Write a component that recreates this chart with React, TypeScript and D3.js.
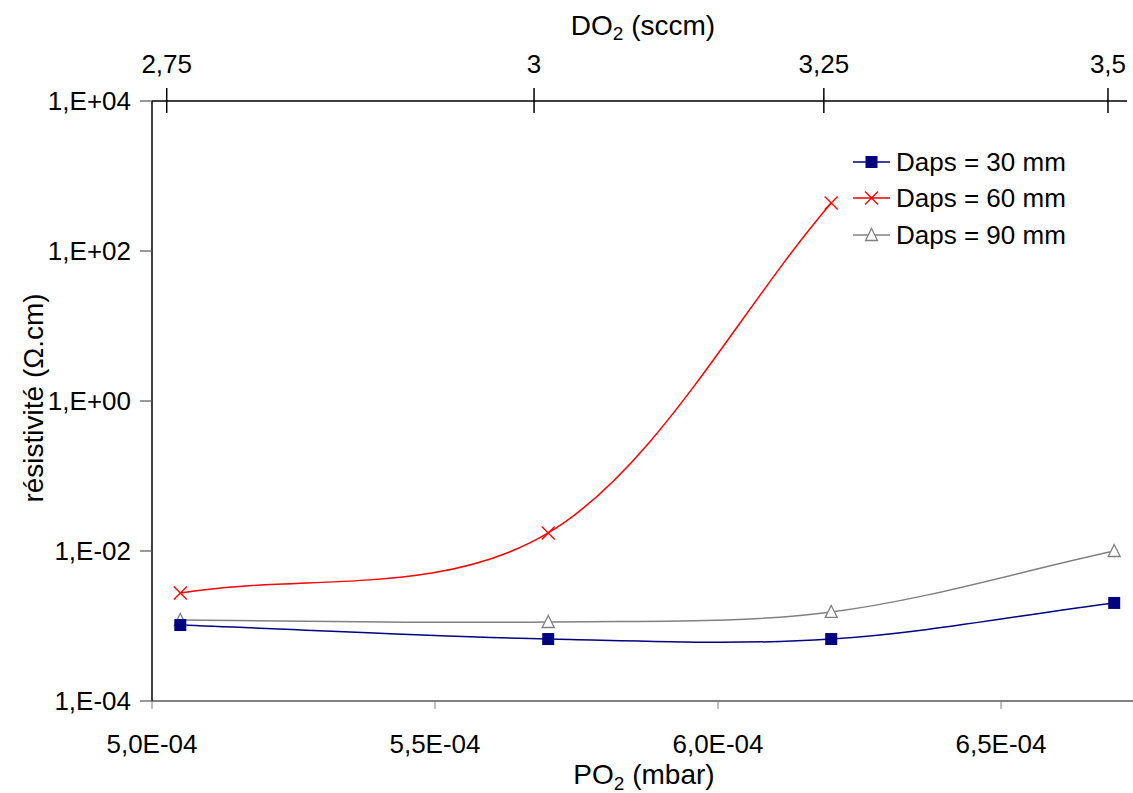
import React from "react";
import * as d3 from "d3";

const po2 = [5.05e-4, 5.7e-4, 6.2e-4, 6.7e-4];
const daps30 = [1.03e-3, 6.7e-4, 6.7e-4, 2.03e-3];
const daps60 = [2.75e-3, 1.74e-2, 437];
const daps90 = [1.2e-3, 1.13e-3, 1.54e-3, 1.0e-2];
const do2Ticks = [2.75, 3, 3.25, 3.5];
const do2TickLabels = ["2,75", "3", "3,25", "3,5"];
const do2AsPo2 = [5.026e-4, 5.675e-4, 6.187e-4, 6.689e-4];
const xTicks = [5.0e-4, 5.5e-4, 6.0e-4, 6.5e-4];
const xTickLabels = ["5,0E-04", "5,5E-04", "6,0E-04", "6,5E-04"];
const yTicks = [1e4, 1e2, 1, 1e-2, 1e-4];
const yTickLabels = ["1,E+04", "1,E+02", "1,E+00", "1,E-02", "1,E-04"];
const legendLabels = ["Daps = 30 mm", "Daps = 60 mm", "Daps = 90 mm"];

const W = 1133;
const H = 793;
const FONT = "'Liberation Sans', Arial, sans-serif";

// Excel-like smoothed line through pixel points
function smoothPath(p: [number, number][]): string {
  const n = p.length;
  const path = d3.path();
  if (n === 0) return "";
  path.moveTo(p[0][0], p[0][1]);
  const tan = p.map((_, i) => {
    const a = p[Math.max(0, i - 1)];
    const b = p[Math.min(n - 1, i + 1)];
    const k = i === 0 || i === n - 1 ? 1 : 0.5;
    return [(b[0] - a[0]) * k, (b[1] - a[1]) * k];
  });
  for (let i = 0; i < n - 1; i++) {
    const c1 = [p[i][0] + tan[i][0] / 3, p[i][1] + tan[i][1] / 3];
    const c2 = [p[i + 1][0] - tan[i + 1][0] / 3, p[i + 1][1] - tan[i + 1][1] / 3];
    path.bezierCurveTo(c1[0], c1[1], c2[0], c2[1], p[i + 1][0], p[i + 1][1]);
  }
  return path.toString();
}

export default function App() {
  const left = 152;
  const top = 101;
  const bottom = 701;
  const x = d3.scaleLinear().domain([5e-4, 7e-4]).range([left, left + 2 * 566]);
  const y = d3.scaleLog().domain([1e-4, 1e4]).range([bottom, top]);
  const topScale = d3.scaleLinear().domain(do2Ticks).range(do2AsPo2.map((v) => x(v)));

  const pts = (vals: number[]) => vals.map((v, i) => [x(po2[i]), y(v)] as [number, number]);

  const c30 = "#000080";
  const c60 = "#ff0000";
  const c90 = "#808080";

  const square = (cx: number, cy: number, key: any) => (
    <rect key={key} x={cx - 6} y={cy - 6} width={12} height={12} fill={c30} />
  );
  const cross = (cx: number, cy: number, key: any) => (
    <path
      key={key}
      d={`M${cx - 6.5},${cy - 6.5}L${cx + 6.5},${cy + 6.5}M${cx - 6.5},${cy + 6.5}L${cx + 6.5},${cy - 6.5}`}
      stroke={c60}
      strokeWidth={1.3}
      fill="none"
    />
  );
  const tri = (cx: number, cy: number, key: any) => (
    <path
      key={key}
      d={`M${cx},${cy - 6.5}L${cx + 6},${cy + 5.5}L${cx - 6},${cy + 5.5}Z`}
      stroke={c90}
      strokeWidth={1.3}
      fill="white"
    />
  );

  const legendY = [162, 198, 235];
  const lx0 = 853;
  const lx1 = 890;
  const fs = 26;
  const tfs = 28;

  return (
    <svg width={W} height={H} style={{ display: "block", position: "absolute", left: 0, top: 0 }} fontFamily={FONT}>
      <rect width={W} height={H} fill="white" />
      {/* series lines */}
      <path d={smoothPath(pts(daps30))} fill="none" stroke={c30} strokeWidth={1.5} />
      <path d={smoothPath(pts(daps60))} fill="none" stroke={c60} strokeWidth={1.5} />
      <path d={smoothPath(pts(daps90))} fill="none" stroke={c90} strokeWidth={1.5} />
      {daps90.map((v, i) => tri(x(po2[i]), y(v), "t" + i))}
      {daps30.map((v, i) => square(x(po2[i]), y(v), "s" + i))}
      {daps60.map((v, i) => cross(x(po2[i]), y(v), "c" + i))}

      {/* bottom axis */}
      <line x1={left} x2={W} y1={bottom} y2={bottom} stroke="#808080" strokeWidth={2} />
      {xTicks.map((t, i) => (
        <g key={"xt" + i}>
          <line x1={x(t)} x2={x(t)} y1={bottom} y2={bottom + 8} stroke="#808080" strokeWidth={1} />
          <text x={x(t)} y={bottom + 52} textAnchor="middle" fontSize={fs} fill="#000">
            {xTickLabels[i]}
          </text>
        </g>
      ))}
      <text x={644} y={784} textAnchor="middle" fontSize={tfs} fill="#000">
        PO<tspan fontSize={19} dy={6}>2</tspan>
        <tspan dy={-6}> (mbar)</tspan>
      </text>

      {/* left axis */}
      <line x1={left} x2={left} y1={top} y2={bottom} stroke="#000" strokeWidth={1.5} />
      {yTicks.map((t, i) => (
        <g key={"yt" + i}>
          <line x1={left - 12} x2={left} y1={y(t)} y2={y(t)} stroke="#555" strokeWidth={1.2} />
          <text x={131} y={y(t) + 9} textAnchor="end" fontSize={fs} fill="#000">
            {yTickLabels[i]}
          </text>
        </g>
      ))}
      <text
        transform={`translate(43,${398}) rotate(-90)`}
        textAnchor="middle"
        fontSize={tfs}
        fill="#000"
      >
        résistivité (Ω.cm)
      </text>

      {/* top axis */}
      <line x1={left} x2={1127} y1={top} y2={top} stroke="#000" strokeWidth={1.5} />
      {do2Ticks.map((t, i) => (
        <g key={"tt" + i}>
          <line x1={topScale(t)} x2={topScale(t)} y1={top - 13} y2={top + 12} stroke="#000" strokeWidth={1.5} />
          <text x={topScale(t)} y={top - 28} textAnchor="middle" fontSize={fs} fill="#000">
            {do2TickLabels[i]}
          </text>
        </g>
      ))}
      <text x={643} y={35} textAnchor="middle" fontSize={tfs} fill="#000">
        DO<tspan fontSize={19} dy={5}>2</tspan>
        <tspan dy={-5}> (sccm)</tspan>
      </text>

      {/* legend */}
      {legendLabels.map((lab, i) => {
        const ly = legendY[i];
        const col = [c30, c60, c90][i];
        const cx = (lx0 + lx1) / 2;
        return (
          <g key={"lg" + i}>
            <line x1={lx0} x2={lx1} y1={ly} y2={ly} stroke={col} strokeWidth={1.5} />
            {i === 0 ? square(cx, ly, "ls") : i === 1 ? cross(cx, ly, "lc") : tri(cx, ly, "lt")}
            <text x={896} y={ly + 9} fontSize={fs} fill="#000">
              {lab}
            </text>
          </g>
        );
      })}
    </svg>
  );
}
